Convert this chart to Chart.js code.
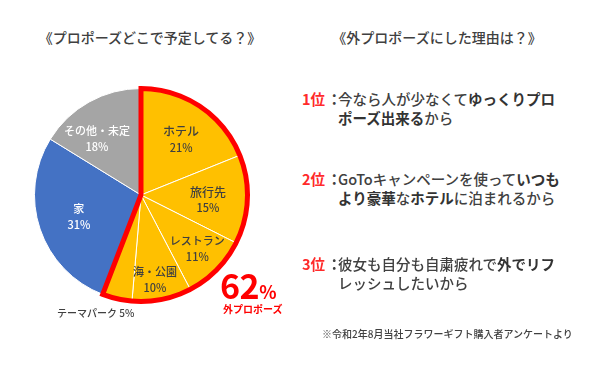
<!DOCTYPE html>
<html lang="ja">
<head>
<meta charset="utf-8">
<script src="https://cdn.jsdelivr.net/npm/chart.js@4"></script>
<style>
  html, body { margin: 0; padding: 0; background: #fff; }
  body { width: 598px; height: 367px; position: relative; overflow: hidden;
         font-family: "Noto Sans CJK JP", "Noto Sans", sans-serif; color: #404040; font-weight: 500; }
  .title { position: absolute; top: 27px; font-size: 14px; line-height: 20px; white-space: nowrap;
           transform: translateX(-50%); }
  #chartBox { position: absolute; left: 14px; top: 68px; width: 254px; height: 254px; }
  .item { position: absolute; left: 302px; width: 290px; font-size: 14.5px; line-height: 18.5px; }
  .rank { position: absolute; left: 0; top: 0; color: #ff2a2a; font-weight: bold; }
  .colon { position: absolute; left: 25px; top: 0; font-weight: bold; }
  .text { margin-left: 36px; white-space: nowrap; }
  .text b { font-weight: bold; color: #333; }
  .big { position: absolute; left: 220px; top: 265px; color: #ff0000; font-weight: bold; white-space: nowrap; }
  .big .num { font-size: 34px; line-height: 40px; letter-spacing: -0.5px; }
  .big .pct { font-size: 18px; }
  .big .sub { position: absolute; left: 3px; top: 38px; font-size: 10px; line-height: 12px; }
  .note { position: absolute; left: 322px; top: 327px; font-size: 10px; line-height: 14px; white-space: nowrap; }
</style>
</head>
<body>
<div class="title" style="left:150px">《プロポーズどこで予定してる？》</div>
<div class="title" style="left:437px">《外プロポーズにした理由は？》</div>

<div id="chartBox"><canvas id="pie"></canvas></div>

<div class="big"><span class="num">62</span><span class="pct">%</span><div class="sub">外プロポーズ</div></div>

<div class="item" style="top:90px"><span class="rank">1位</span><span class="colon">：</span>
  <div class="text">今なら人が少なくて<b>ゆっくりプロ</b><br><b>ポーズ出来る</b>から</div></div>
<div class="item" style="top:170px"><span class="rank">2位</span><span class="colon">：</span>
  <div class="text">GoToキャンペーンを使って<b>いつも</b><br><b>より豪華</b>な<b>ホテル</b>に泊まれるから</div></div>
<div class="item" style="top:255px"><span class="rank">3位</span><span class="colon">：</span>
  <div class="text">彼女も自分も自粛疲れで<b>外でリフ</b><br>レッシュしたいから</div></div>

<div class="note">※令和2年8月当社フラワーギフト購入者アンケートより</div>

<script>
const places = ['ホテル', '旅行先', 'レストラン', '海・公園', 'テーマパーク', '家', 'その他・未定'];
const shares = [21, 15, 11, 10, 5, 31, 18];
const sliceColors = ['#FFC000', '#FFC000', '#FFC000', '#FFC000', '#FFC000', '#4472C4', '#A5A5A5'];
const outsideGroup = [0, 1, 2, 3, 4];

// label placement: fraction of radius, angle shift in degrees
const labelRadius = [0.64, 0.63, 0.73, 0.81, 1.19, 0.62, 0.67];
const labelShift = [2, 2, -1, 2, 8, -1, -9];

const labelPlugin = {
  id: 'sliceLabels',
  afterDatasetsDraw(chart) {
    const ctx = chart.ctx;
    const arcs = chart.getDatasetMeta(0).data;

    // red outline around the outdoor group
    const first = arcs[outsideGroup[0]];
    const last = arcs[outsideGroup[outsideGroup.length - 1]];
    ctx.save();
    ctx.beginPath();
    ctx.moveTo(first.x, first.y);
    ctx.arc(first.x, first.y, first.outerRadius, first.startAngle, last.endAngle);
    ctx.closePath();
    ctx.lineWidth = 5;
    ctx.lineJoin = 'miter';
    ctx.strokeStyle = '#ff0000';
    ctx.stroke();
    ctx.restore();

    ctx.save();
    ctx.textAlign = 'center';
    ctx.textBaseline = 'middle';
    arcs.forEach((arc, i) => {
      const mid = (arc.startAngle + arc.endAngle) / 2 + labelShift[i] * Math.PI / 180;
      const r = arc.outerRadius * labelRadius[i];
      const x = arc.x + Math.cos(mid) * r;
      const y = arc.y + Math.sin(mid) * r;
      const pct = shares[i] + '%';
      if (i === 4) {
        ctx.fillStyle = '#404040';
        ctx.font = '500 10px "Noto Sans CJK JP"';
        ctx.fillText(places[i] + ' ' + pct, x, y);
        return;
      }
      ctx.fillStyle = i >= 5 ? '#ffffff' : '#404040';
      const big = i <= 1 ? 12 : 11;
      ctx.font = '500 ' + big + 'px "Noto Sans CJK JP"';
      ctx.fillText(places[i], x, y - 8);
      ctx.font = '500 11px "Noto Sans CJK JP"';
      ctx.fillText(pct, x, y + 8);
    });
    ctx.restore();
  }
};

new Chart(document.getElementById('pie'), {
  type: 'pie',
  data: {
    labels: places,
    datasets: [{
      data: shares,
      backgroundColor: sliceColors,
      borderColor: '#ffffff',
      borderWidth: 1
    }]
  },
  options: {
    responsive: true,
    maintainAspectRatio: false,
    animation: false,
    layout: { padding: 20 },
    plugins: {
      legend: { display: false },
      tooltip: { enabled: false }
    }
  },
  plugins: [labelPlugin]
});
</script>
</body>
</html>
